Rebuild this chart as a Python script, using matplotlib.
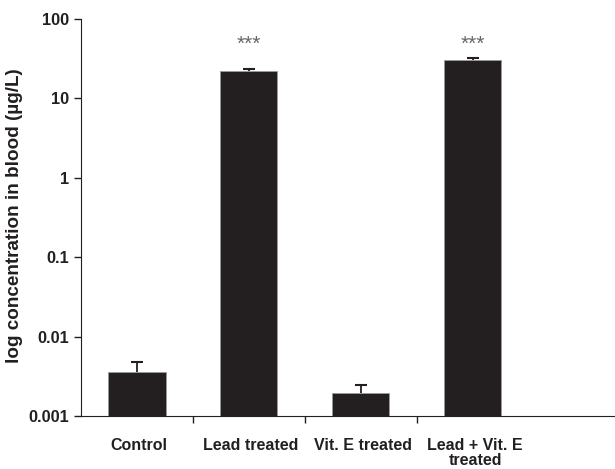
import matplotlib.pyplot as plt
import numpy as np

groups = ["Control", "Lead treated", "Vit. E treated", "Lead + Vit. E\ntreated"]
means = [0.00355, 22.3, 0.00193, 30.5]
errs = [0.00125, 1.4, 0.00053, 1.5]
stars = ["", "***", "", "***"]

plt.rcParams['font.family'] = ['Liberation Sans', 'DejaVu Sans']

fig = plt.figure(figsize=(6.15, 4.69), dpi=100)
ax = fig.add_axes([81 / 615, 53 / 469, 1 - 81 / 615, 397 / 469])

x = np.arange(len(groups))
top = np.array(means) + np.array(errs)
# one-sided error bars: stem plus a cap at the top only
ax.errorbar(x, means, yerr=[np.zeros(len(errs)), errs], fmt="none", ecolor="#231f20",
            elinewidth=1.3, capsize=0, zorder=1)
ax.plot(x, top, ls="none", marker="_", ms=9, mew=1.5, color="#231f20", zorder=1)
ax.bar(x, means, width=0.51, color="#231f20", edgecolor="#9a9a9a", linewidth=0.6, zorder=2)

ax.set_yscale("log")
ax.set_ylim(0.001, 100)
ax.set_xlim(-0.5, 4.27)
ax.set_yticks([0.001, 0.01, 0.1, 1, 10, 100])
ax.set_yticklabels(["0.001", "0.01", "0.1", "1", "10", "100"], fontsize=11.8, fontweight="bold", color="#231f20")
ax.minorticks_off()
ax.set_xticks([0.5, 1.5, 2.5])
ax.set_xticklabels([])
for xi, g in zip(x, groups):
    ax.text(xi + 0.02, -0.055, g, transform=ax.get_xaxis_transform(), ha="center", va="top",
            fontsize=11.5, fontweight="bold", color="#231f20", linespacing=1.05)
for xi, s in zip(x, stars):
    if s:
        ax.text(xi, 0.935, s, transform=ax.get_xaxis_transform(), ha="center", va="center",
                fontsize=15, color="#666666")

ax.tick_params(axis="both", direction="out", length=5, width=1, color="#231f20")
ax.spines["top"].set_visible(False)
ax.spines["right"].set_visible(False)
ax.spines["left"].set_color("#231f20")
ax.spines["bottom"].set_color("#231f20")
ax.set_ylabel("log concentration in blood (µg/L)", fontsize=13.6, fontweight="bold", color="#231f20")
ax.yaxis.set_label_coords(-0.108, 0.505)

fig.savefig("out.png", dpi=100)
